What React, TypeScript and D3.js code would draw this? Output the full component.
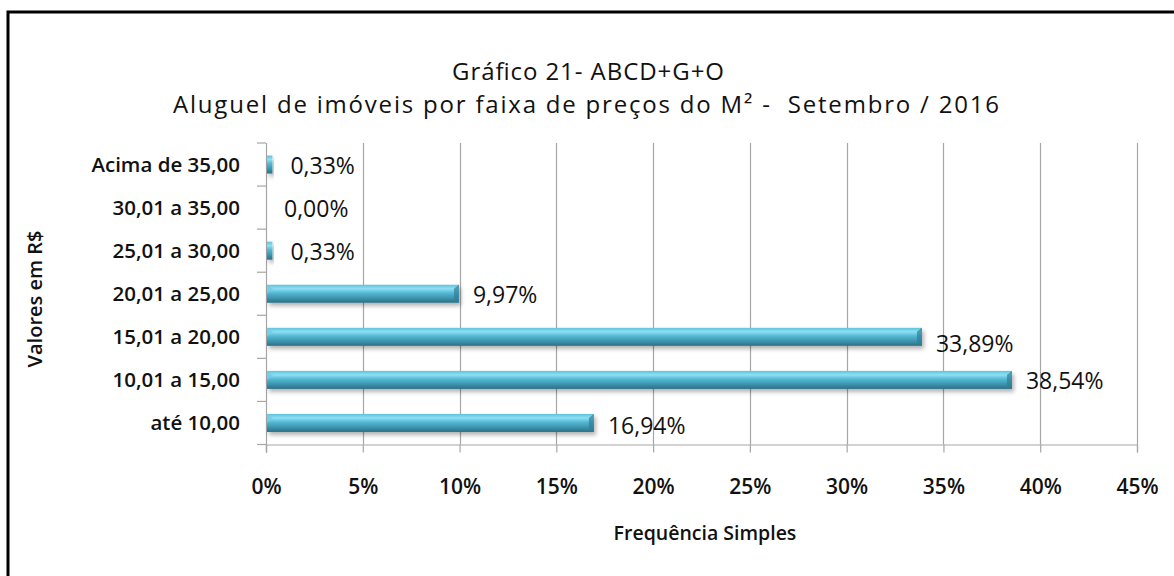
import { useEffect, useRef } from 'react';
import * as d3 from 'd3';

const categories = ['Acima de 35,00', '30,01 a 35,00', '25,01 a 30,00', '20,01 a 25,00', '15,01 a 20,00', '10,01 a 15,00', 'até 10,00'];
const values = [0.33, 0.0, 0.33, 9.97, 33.89, 38.54, 16.94];
const valueLabels = ['0,33%', '0,00%', '0,33%', '9,97%', '33,89%', '38,54%', '16,94%'];
const labelShift = [0, 0, 0, 0, 6, 0, 2];
const xTicks = [0, 5, 10, 15, 20, 25, 30, 35, 40, 45];

const FONT = '"Open Sans", Lato, sans-serif';

export default function App() {
  const ref = useRef<SVGSVGElement>(null);

  useEffect(() => {
    const width = 1174;
    const height = 576;
    const margin = { top: 143, right: 37, bottom: 131, left: 266 };
    const innerWidth = width - margin.left - margin.right;
    const innerHeight = height - margin.top - margin.bottom - 0.5;

    const svg = d3.select(ref.current);
    svg.selectAll('*').remove();

    const defs = svg.append('defs');
    const grad = defs.append('linearGradient').attr('id', 'barGrad').attr('x1', 0).attr('y1', 0).attr('x2', 0).attr('y2', 1);
    grad.append('stop').attr('offset', '0%').attr('stop-color', '#5cc3dd');
    grad.append('stop').attr('offset', '22%').attr('stop-color', '#8fdff3');
    grad.append('stop').attr('offset', '45%').attr('stop-color', '#55b9d4');
    grad.append('stop').attr('offset', '75%').attr('stop-color', '#3c93ad');
    grad.append('stop').attr('offset', '100%').attr('stop-color', '#2b6f86');

    const shadow = defs.append('filter').attr('id', 'shadow').attr('x', '-10%').attr('y', '-50%').attr('width', '130%').attr('height', '250%');
    shadow.append('feDropShadow').attr('dx', 2).attr('dy', 3).attr('stdDeviation', 2).attr('flood-color', '#000').attr('flood-opacity', 0.3);

    // frame
    svg.append('rect')
      .attr('x', 8).attr('y', 12).attr('width', 1200).attr('height', 600)
      .attr('fill', 'white').attr('stroke', 'black').attr('stroke-width', 3);

    // titles
    svg.append('text')
      .attr('x', 588).attr('y', 80)
      .attr('text-anchor', 'middle')
      .attr('textLength', 272).attr('lengthAdjust', 'spacing')
      .style('font-family', FONT).style('font-size', '24px').style('font-weight', 500).attr('fill', '#111')
      .text('Gráfico 21- ABCD+G+O');
    svg.append('text')
      .attr('x', 586).attr('y', 113)
      .attr('text-anchor', 'middle')
      .attr('textLength', 826).attr('lengthAdjust', 'spacing')
      .style('font-family', FONT).style('font-size', '24px').style('font-weight', 500).attr('fill', '#111')
      .attr('xml:space', 'preserve')
      .text('Aluguel de imóveis por faixa de preços do M² -  Setembro / 2016');

    const g = svg.append('g').attr('transform', `translate(${margin.left}, ${margin.top})`);

    const xScale = d3.scaleLinear().domain([0, 45]).range([0, innerWidth]);
    const yScale = d3.scaleBand().domain(categories).range([0, innerHeight]);

    // vertical gridlines
    g.selectAll('.grid')
      .data(xTicks.slice(1))
      .join('line')
      .attr('class', 'grid')
      .attr('x1', d => Math.round(xScale(d)) + 0.5).attr('x2', d => Math.round(xScale(d)) + 0.5)
      .attr('y1', 0).attr('y2', innerHeight)
      .attr('stroke', '#a6a6a6').attr('stroke-width', 1.2);

    // x axis
    const xAxis = d3.axisBottom(xScale).tickValues(xTicks).tickSize(8).tickFormat(d => `${d}%`);
    const xg = g.append('g').attr('transform', `translate(0, ${innerHeight})`).call(xAxis);
    xg.select('.domain').attr('stroke', '#a6a6a6').attr('stroke-width', 1.2);
    xg.selectAll('.tick line').attr('stroke', '#a6a6a6').attr('stroke-width', 1.2);
    xg.selectAll('.tick text')
      .attr('dy', 0).attr('y', 49)
      .style('font-family', FONT).style('font-size', '21px').style('font-weight', 600).attr('fill', '#111');

    // y axis
    const bandTicks = d3.range(categories.length + 1).map(i => i * yScale.step());
    g.append('line')
      .attr('x1', 0.5).attr('x2', 0.5).attr('y1', 0).attr('y2', innerHeight + 8)
      .attr('stroke', '#a6a6a6').attr('stroke-width', 1.2);
    g.selectAll('.ytick')
      .data(bandTicks)
      .join('line')
      .attr('class', 'ytick')
      .attr('x1', -9).attr('x2', 0)
      .attr('y1', d => d).attr('y2', d => d)
      .attr('stroke', '#a6a6a6').attr('stroke-width', 1.2);

    g.selectAll('.cat')
      .data(categories)
      .join('text')
      .attr('class', 'cat')
      .attr('x', -26)
      .attr('y', d => (yScale(d) as number) + yScale.bandwidth() / 2)
      .attr('dy', '0.35em')
      .attr('text-anchor', 'end')
      .style('font-family', FONT).style('font-size', '20.5px').style('font-weight', 600).attr('fill', '#111')
      .text(d => d);

    // bars
    const barH = 18;
    const bars = g.selectAll('.bar')
      .data(values)
      .join('g')
      .attr('class', 'bar')
      .attr('transform', (d, i) => `translate(0, ${(yScale(categories[i]) as number) + yScale.bandwidth() / 2 - barH / 2})`);

    bars.filter(d => d > 0)
      .append('rect')
      .attr('x', 1).attr('y', 0)
      .attr('width', d => Math.max(3, xScale(d) - 1))
      .attr('height', barH)
      .attr('fill', 'url(#barGrad)')
      .attr('filter', 'url(#shadow)');

    bars.filter(d => d > 3)
      .append('path')
      .attr('d', d => {
        const x = xScale(d);
        return `M${x - 5},4 L${x},0 L${x},${barH} L${x - 5},${barH - 4} Z`;
      })
      .attr('fill', '#2f7d96').attr('opacity', 0.7);

    bars.filter(d => d > 3)
      .append('path')
      .attr('d', () => `M1,0 L7,4 L1,${barH / 2} Z`)
      .attr('fill', '#6fcde6').attr('opacity', 0.8);

    // value labels
    g.selectAll('.val')
      .data(values)
      .join('text')
      .attr('class', 'val')
      .attr('x', d => xScale(d) + (d < 1 ? 18 : 14))
      .attr('y', (d, i) => (yScale(categories[i]) as number) + yScale.bandwidth() / 2 + 1 + labelShift[i])
      .attr('dy', '0.35em')
      .style('font-family', FONT).style('font-size', '23px').style('font-weight', 500).attr('fill', '#111')
      .text((d, i) => valueLabels[i]);

    // axis titles
    svg.append('text')
      .attr('x', 705).attr('y', 540)
      .attr('text-anchor', 'middle')
      .style('font-family', FONT).style('font-size', '19.5px').style('font-weight', 600).attr('fill', '#111')
      .text('Frequência Simples');

    svg.append('text')
      .attr('transform', 'translate(42, 299) rotate(-90)')
      .attr('text-anchor', 'middle')
      .style('font-family', FONT).style('font-size', '20px').style('font-weight', 600).attr('fill', '#111')
      .text('Valores em R$');
  }, []);

  return (
    <svg ref={ref} width={1174} height={576} style={{ position: 'absolute', left: 0, top: 0, background: 'white' }} />
  );
}
